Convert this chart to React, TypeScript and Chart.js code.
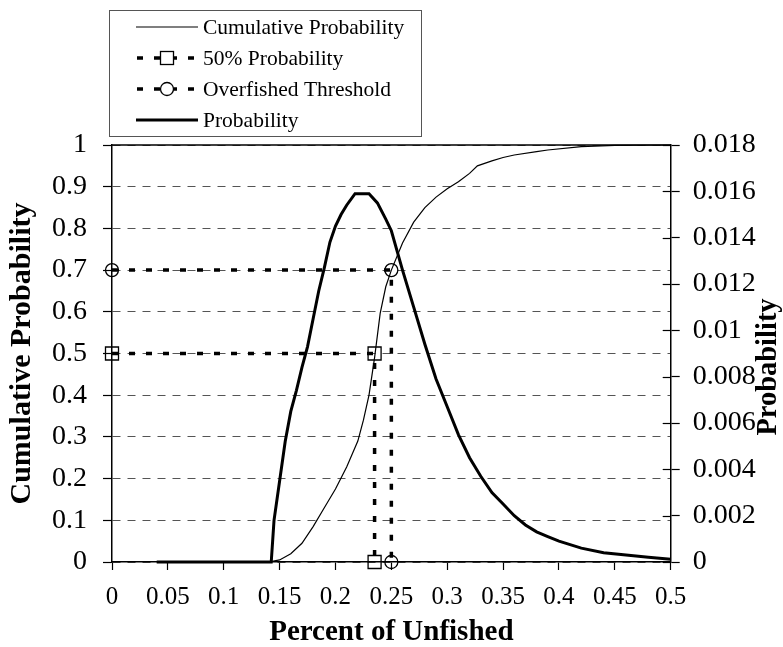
import { useEffect, useRef } from 'react';
import { Chart, registerables } from 'chart.js';

Chart.register(...registerables);

const FONT = "'Liberation Serif', 'Times New Roman', serif";

// Cumulative probability (left axis)
const cumX = [0.04, 0.14, 0.15, 0.16, 0.17, 0.18, 0.19, 0.2, 0.21, 0.22, 0.225, 0.23, 0.235, 0.24, 0.245, 0.25, 0.26, 0.27, 0.28, 0.29, 0.3, 0.31, 0.32, 0.327, 0.34, 0.35, 0.36, 0.38, 0.39, 0.42, 0.45, 0.5];
const cumY = [0, 0, 0.005, 0.02, 0.045, 0.085, 0.13, 0.175, 0.228, 0.29, 0.34, 0.4, 0.49, 0.596, 0.66, 0.7, 0.765, 0.815, 0.85, 0.875, 0.895, 0.912, 0.932, 0.95, 0.962, 0.97, 0.976, 0.984, 0.988, 0.996, 0.999, 1.0];

// Probability (right axis)
const probX = [0.04, 0.1425, 0.145, 0.15, 0.155, 0.16, 0.165, 0.17, 0.175, 0.18, 0.185, 0.19, 0.195, 0.2, 0.205, 0.21, 0.2175, 0.23, 0.2375, 0.245, 0.25, 0.26, 0.27, 0.28, 0.29, 0.3, 0.31, 0.32, 0.33, 0.34, 0.35, 0.36, 0.37, 0.38, 0.39, 0.4, 0.42, 0.44, 0.46, 0.48, 0.5];
const probY = [0, 0, 0.0018, 0.0035, 0.0052, 0.0065, 0.0074, 0.0084, 0.0093, 0.0105, 0.0117, 0.0127, 0.0138, 0.0145, 0.015, 0.0154, 0.0159, 0.0159, 0.0155, 0.0148, 0.0143, 0.0126, 0.011, 0.0094, 0.0079, 0.0067, 0.0055, 0.0045, 0.0037, 0.003, 0.0025, 0.002, 0.0016, 0.0013, 0.0011, 0.0009, 0.0006, 0.0004, 0.0003, 0.0002, 0.00012];

// 50% probability marker path
const medianX = [0, 0.235, 0.235];
const medianY = [0.5, 0.5, 0];

// Overfished threshold marker path
const thresholdX = [0, 0.25, 0.25];
const thresholdY = [0.7, 0.7, 0];

const seriesNames = ['Cumulative Probability', '50% Probability', 'Overfished Threshold', 'Probability'];

const xTickLabels = ['0', '0.05', '0.1', '0.15', '0.2', '0.25', '0.3', '0.35', '0.4', '0.45', '0.5'];
const leftTickLabels = ['0', '0.1', '0.2', '0.3', '0.4', '0.5', '0.6', '0.7', '0.8', '0.9', '1'];
const rightTickLabels = ['0', '0.002', '0.004', '0.006', '0.008', '0.01', '0.012', '0.014', '0.016', '0.018'];

const xTitle = 'Percent of Unfished';
const leftTitle = 'Cumulative Probability';
const rightTitle = 'Probability';

const toPts = (xs: number[], ys: number[]) => xs.map((x, i) => ({ x, y: ys[i] }));

const extrasPlugin = {
  id: 'extras',
  afterDraw(chart: any) {
    const ctx = chart.ctx as CanvasRenderingContext2D;
    const area = chart.chartArea;
    ctx.save();
    // top border of plot area
    ctx.strokeStyle = '#000';
    ctx.lineWidth = 1.5;
    ctx.setLineDash([]);
    ctx.beginPath();
    ctx.moveTo(area.left, area.top);
    ctx.lineTo(area.right, area.top);
    ctx.stroke();
    // inner tick marks on right axis
    const y1 = chart.scales.y1;
    ctx.lineWidth = 1.2;
    y1.ticks.forEach((t: any) => {
      const py = Math.round(y1.getPixelForValue(t.value)) + 0.5;
      ctx.beginPath();
      ctx.moveTo(area.right - 8, py);
      ctx.lineTo(area.right, py);
      ctx.stroke();
    });
    // right axis title (reads bottom-to-top)
    ctx.fillStyle = '#000';
    ctx.font = `bold 28.5px ${FONT}`;
    ctx.textAlign = 'center';
    ctx.textBaseline = 'middle';
    ctx.translate(769, 367);
    ctx.rotate(-Math.PI / 2);
    ctx.fillText(rightTitle, 0, 0);
    ctx.restore();

    // legend
    ctx.save();
    ctx.strokeStyle = '#555';
    ctx.lineWidth = 1;
    ctx.setLineDash([]);
    ctx.strokeRect(109.5, 10.5, 312, 126);
    const x0 = 136, x1 = 198, xm = 167;
    chart.data.datasets.forEach((ds: any, i: number) => {
      const y = 27 + i * 31;
      ctx.strokeStyle = '#000';
      ctx.lineWidth = ds.borderWidth;
      ctx.lineCap = 'butt';
      ctx.setLineDash(ds.borderDash || []);
      ctx.lineDashOffset = ds.borderDash ? -1 : 0;
      ctx.beginPath();
      ctx.moveTo(x0, y);
      ctx.lineTo(x1, y);
      ctx.stroke();
      ctx.setLineDash([]);
      if (ds.pointStyle === 'rect') {
        ctx.fillStyle = '#fff';
        ctx.lineWidth = 1.3;
        ctx.fillRect(xm - 6.5, y - 6.5, 13, 13);
        ctx.strokeRect(xm - 6.5, y - 6.5, 13, 13);
      } else if (ds.pointStyle === 'circle' && ds.pointRadius > 0) {
        ctx.fillStyle = '#fff';
        ctx.lineWidth = 1.3;
        ctx.beginPath();
        ctx.arc(xm, y, 6.5, 0, Math.PI * 2);
        ctx.fill();
        ctx.stroke();
      }
      ctx.fillStyle = '#000';
      ctx.font = `21.5px ${FONT}`;
      ctx.textAlign = 'left';
      ctx.textBaseline = 'middle';
      ctx.fillText(ds.label, 203, y + 1);
    });
    ctx.restore();
  },
};

export default function App() {
  const ref = useRef<HTMLCanvasElement | null>(null);

  useEffect(() => {
    if (!ref.current) return;
    Chart.defaults.font.family = FONT;
    Chart.defaults.color = '#000';
    const chart = new Chart(ref.current, {
      type: 'scatter',
      data: {
        datasets: [
          {
            label: seriesNames[0],
            data: toPts(cumX, cumY),
            yAxisID: 'y',
            showLine: true,
            borderColor: '#000',
            borderWidth: 1.2,
            pointRadius: 0,
            pointStyle: 'circle',
            clip: false,
          },
          {
            label: seriesNames[1],
            data: toPts(medianX, medianY),
            yAxisID: 'y',
            showLine: true,
            borderColor: '#000',
            borderWidth: 3.5,
            borderDash: [6, 11],
            borderCapStyle: 'butt',
            pointStyle: 'rect',
            pointRadius: 9.2,
            pointHoverRadius: 9.2,
            pointBorderWidth: 1.3,
            pointBorderColor: '#000',
            pointBackgroundColor: 'rgba(0,0,0,0)',
            clip: false,
          },
          {
            label: seriesNames[2],
            data: toPts(thresholdX, thresholdY),
            yAxisID: 'y',
            showLine: true,
            borderColor: '#000',
            borderWidth: 3.5,
            borderDash: [6, 11],
            borderCapStyle: 'butt',
            pointStyle: 'circle',
            pointRadius: 6.5,
            pointHoverRadius: 6.5,
            pointBorderWidth: 1.3,
            pointBorderColor: '#000',
            pointBackgroundColor: 'rgba(0,0,0,0)',
            clip: false,
          },
          {
            label: seriesNames[3],
            data: toPts(probX, probY),
            yAxisID: 'y1',
            showLine: true,
            borderColor: '#000',
            borderWidth: 3,
            pointRadius: 0,
            pointStyle: 'circle',
            clip: false,
          },
        ],
      } as any,
      options: {
        animation: false,
        responsive: false,
        devicePixelRatio: 1,
        layout: { padding: { top: 145, left: 0, right: 0, bottom: 0 } },
        plugins: { legend: { display: false }, tooltip: { enabled: false } },
        scales: {
          x: {
            type: 'linear',
            min: 0,
            max: 0.5,
            ticks: {
              stepSize: 0.05,
              autoSkip: false,
              maxRotation: 0,
              padding: 12,
              color: '#000',
              font: { family: FONT, size: 25 },
              callback: (_v: any, i: number) => xTickLabels[i],
            },
            grid: { drawOnChartArea: false, drawTicks: true, tickLength: 8, tickColor: '#000', tickWidth: 1.2 },
            border: { color: '#000', width: 1.5 },
            title: {
              display: true,
              text: xTitle,
              color: '#000',
              font: { family: FONT, size: 29, weight: 'bold', lineHeight: 1 },
              padding: 0,
            },
            afterFit: (s: any) => { s.height = 85; },
          },
          y: {
            position: 'left',
            min: 0,
            max: 1,
            ticks: {
              stepSize: 0.1,
              padding: 16,
              color: '#000',
              font: { family: FONT, size: 28 },
              callback: (_v: any, i: number) => leftTickLabels[i],
            },
            grid: { color: '#555', lineWidth: 1, tickLength: 9, tickColor: '#000', tickWidth: 1.2, tickBorderDash: [] },
            border: { color: '#000', width: 1.5, dash: [8, 7] },
            title: {
              display: true,
              text: leftTitle,
              color: '#000',
              font: { family: FONT, size: 30, weight: 'bold', lineHeight: 1 },
              padding: { top: 7, bottom: 0 },
            },
            afterFit: (s: any) => { s.width = 112; },
          },
          y1: {
            position: 'right',
            min: 0,
            max: 0.018,
            ticks: {
              stepSize: 0.002,
              padding: 13,
              color: '#000',
              font: { family: FONT, size: 28 },
              callback: (_v: any, i: number) => rightTickLabels[i],
            },
            grid: { drawOnChartArea: false, tickLength: 9, tickColor: '#000', tickWidth: 1.2 },
            border: { color: '#000', width: 1.5 },
            afterFit: (s: any) => { s.width = 112.3; },
          },
        },
      } as any,
      plugins: [extrasPlugin],
    });
    return () => chart.destroy();
  }, []);

  return (
    <div style={{ position: 'absolute', left: 0, top: 0, width: 783, height: 647, background: '#fff' }}>
      <canvas ref={ref} width={783} height={647} style={{ display: 'block' }} />
    </div>
  );
}
